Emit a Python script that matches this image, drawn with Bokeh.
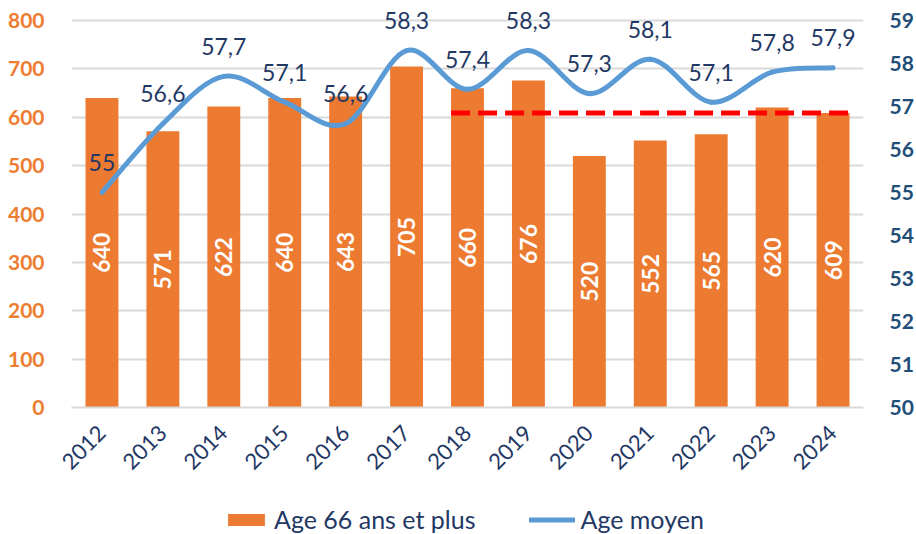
import math
from bokeh.plotting import figure
from bokeh.layouts import column
from bokeh.models import (ColumnDataSource, Range1d, LinearAxis, FixedTicker,
                          LabelSet, Legend, LegendItem)
from bokeh.core.properties import value
from bokeh.embed import file_html
from bokeh.resources import INLINE

# ---- data ----
years = ["2012", "2013", "2014", "2015", "2016", "2017", "2018",
         "2019", "2020", "2021", "2022", "2023", "2024"]
count_66_plus = [640, 571, 622, 640, 643, 705, 660, 676, 520, 552, 565, 620, 609]
age_moyen = [55.0, 56.6, 57.7, 57.1, 56.6, 58.3, 57.4, 58.3, 57.3, 58.1, 57.1, 57.8, 57.9]
reference_level = 609          # red dashed line (2018 -> 2024)
reference_start = "2018"
left_ticks = [0, 100, 200, 300, 400, 500, 600, 700, 800]
right_ticks = [50, 51, 52, 53, 54, 55, 56, 57, 58, 59]
series_names = ["Age 66 ans et plus", "Age moyen"]

FONT = "Lato"
ORANGE = "#EC7A30"
BLUE = "#5B9BD5"
NAVY = "#1F3864"
RIGHT_COL = "#1F4E79"

W = 916
MAIN_H = 482
LEG_H = 534 - MAIN_H
TOP_PAD = 20          # px of free space above the 800 / 59 gridline (for labels)
PLOT_PX = 387         # px between 0 and 800
FRAME_L = 71

n = len(years)
xs = [i + 0.5 for i in range(n)]
left_lo, left_hi = left_ticks[0], left_ticks[-1]
right_lo, right_hi = right_ticks[0], right_ticks[-1]
ext = (PLOT_PX + TOP_PAD) / PLOT_PX


def fmt(v):
    return str(int(v)) if float(v).is_integer() else f"{v:.1f}".replace(".", ",")


p = figure(width=W, height=MAIN_H, output_backend="svg", toolbar_location=None,
           x_range=Range1d(0, n),
           y_range=Range1d(left_lo, left_lo + (left_hi - left_lo) * ext),
           min_border_left=FRAME_L, min_border_right=W - 866, min_border_top=0,
           min_border_bottom=MAIN_H - (PLOT_PX + TOP_PAD))
p.outline_line_color = None
p.background_fill_color = "white"
p.border_fill_color = "white"
p.extra_y_ranges = {"age": Range1d(right_lo, right_lo + (right_hi - right_lo) * ext)}

# grid
p.xgrid.grid_line_color = None
p.ygrid.grid_line_color = "#D9D9D9"
p.ygrid.grid_line_width = 2
p.yaxis.ticker = FixedTicker(ticks=left_ticks)

# bottom axis
p.xaxis.ticker = FixedTicker(ticks=xs)
p.xaxis.major_label_overrides = {x: y for x, y in zip(xs, years)}
p.xaxis.major_label_orientation = math.pi / 4
p.xaxis.major_label_text_font = FONT
p.xaxis.major_label_text_font_size = "22px"
p.xaxis.major_label_text_color = NAVY
p.xaxis.axis_line_color = "#D9D9D9"
p.xaxis.axis_line_width = 2
p.xaxis.major_tick_line_color = None
p.xaxis.minor_tick_line_color = None
p.xaxis.major_label_standoff = 16

# left axis
p.yaxis.axis_line_color = None
p.yaxis.major_tick_line_color = None
p.yaxis.minor_tick_line_color = None
p.yaxis.major_label_text_font = FONT
p.yaxis.major_label_text_font_size = "21px"
p.yaxis.major_label_text_font_style = "bold"
p.yaxis.major_label_text_color = "#ED7D31"
p.yaxis.major_label_standoff = 21

# right axis
ax_r = LinearAxis(y_range_name="age", ticker=FixedTicker(ticks=right_ticks))
ax_r.axis_line_color = None
ax_r.major_tick_line_color = None
ax_r.minor_tick_line_color = None
ax_r.major_label_text_font = FONT
ax_r.major_label_text_font_size = "21px"
ax_r.major_label_text_font_style = "bold"
ax_r.major_label_text_color = RIGHT_COL
ax_r.major_label_standoff = 20
p.add_layout(ax_r, "right")

# bars
bar_src = ColumnDataSource(dict(x=xs, top=count_66_plus,
                                mid=[v / 2 for v in count_66_plus],
                                txt=[str(v) for v in count_66_plus]))
p.vbar(x="x", top="top", width=0.54, bottom=0, source=bar_src,
       fill_color=ORANGE, line_color=None)
p.text(x="x", y="mid", text="txt", source=bar_src, angle=math.pi / 2,
       text_align="center", text_baseline="middle", text_color="white",
       text_font=value(FONT), text_font_size="23px", text_font_style="bold")

# red dashed reference line
i0 = years.index(reference_start)
p.segment(x0=[xs[i0] - 0.27], y0=[reference_level], x1=[xs[-1] + 0.27],
          y1=[reference_level], line_color="#FF0000", line_width=5,
          line_dash="19 8")

# smoothed line (bezier segments, Catmull-Rom style control points)
P = list(zip(xs, age_moyen))
x0s, y0s, x1s, y1s, cx0, cy0, cx1, cy1 = ([] for _ in range(8))
for i in range(n - 1):
    pm = P[i - 1] if i > 0 else P[i]
    p0 = P[i]
    p1 = P[i + 1]
    p2 = P[i + 2] if i + 2 < n else P[i + 1]
    x0s.append(p0[0]); y0s.append(p0[1]); x1s.append(p1[0]); y1s.append(p1[1])
    cx0.append(p0[0] + (p1[0] - pm[0]) / 6); cy0.append(p0[1] + (p1[1] - pm[1]) / 6)
    cx1.append(p1[0] - (p2[0] - p0[0]) / 6); cy1.append(p1[1] - (p2[1] - p0[1]) / 6)
p.bezier(x0=x0s, y0=y0s, x1=x1s, y1=y1s, cx0=cx0, cy0=cy0, cx1=cx1, cy1=cy1,
         y_range_name="age", line_color=BLUE, line_width=5, line_cap="round")

# line labels
lab_src = ColumnDataSource(dict(x=xs, y=age_moyen, txt=[fmt(v) for v in age_moyen]))
p.add_layout(LabelSet(x="x", y="y", text="txt", source=lab_src, y_range_name="age",
                      y_offset=30, text_align="center", text_baseline="middle",
                      text_color=NAVY, text_font=value(FONT), text_font_size="23px"))

# ---- legend strip below the chart ----
# the series are drawn again here but far outside the visible range, only so
# that the legend has glyphs to show
lg = figure(width=W, height=LEG_H, output_backend="svg", toolbar_location=None,
            x_range=Range1d(-1000 * n, -999 * n), y_range=Range1d(100000, 100001),
            x_axis_type=None, y_axis_type=None,
            min_border_left=0, min_border_right=0, min_border_top=0,
            min_border_bottom=0)
lg.outline_line_color = None
lg.grid.visible = False
r_bar = lg.vbar(x=xs, top=count_66_plus, width=0.54, fill_color=ORANGE, line_color=None)
r_line = lg.line(x=xs, y=age_moyen, line_color=BLUE, line_width=5, line_cap="round")
legend = Legend(items=[LegendItem(label=series_names[0], renderers=[r_bar]),
                       LegendItem(label=series_names[1], renderers=[r_line])],
                orientation="horizontal", location=(223 - FRAME_L, 0),
                label_text_font=FONT, label_text_font_size="25px",
                label_text_color=NAVY, glyph_width=46, glyph_height=15,
                spacing=54, border_line_color=None, background_fill_alpha=0,
                label_standoff=5, padding=0, margin=0)
lg.add_layout(legend, "center")

open("out.html", "w").write(file_html(column(p, lg, spacing=0), INLINE))
